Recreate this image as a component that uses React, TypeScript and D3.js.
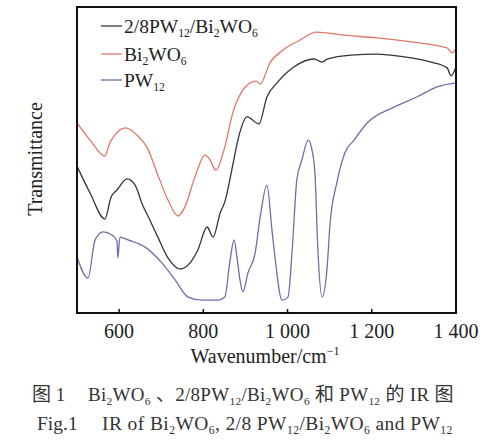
import { useMemo } from 'react'
import * as d3 from 'd3'

type Pt = [number, number]

// wavenumber (cm-1), transmittance (arbitrary %, offset per curve)
const composite: Pt[] = [
  [500, 48.0], [531, 39.2], [566, 30.7], [581, 37.9], [595, 40.2], [619, 43.8], [638, 41.8],
  [654, 35.9], [673, 30.4], [692, 24.8], [716, 18.0], [745, 14.4], [768, 16.3], [787, 20.6],
  [809, 28.1], [823, 24.8], [840, 32.7], [851, 36.3], [870, 48.4], [882, 56.5], [904, 64.1],
  [932, 61.8], [951, 70.6], [975, 75.2], [1015, 80.4], [1063, 83.0], [1082, 82.0], [1094, 83.0],
  [1151, 84.3], [1212, 84.6], [1277, 83.7], [1341, 82.0], [1379, 80.1], [1388, 77.5], [1400, 80.4],
]

const bi2wo6: Pt[] = [
  [500, 62.1], [531, 56.5], [566, 51.3], [578, 55.6], [590, 58.2], [616, 60.5], [642, 58.2],
  [666, 54.2], [692, 45.1], [716, 36.9], [740, 31.7], [756, 34.6], [780, 44.4], [804, 51.6],
  [816, 50.0], [830, 46.7], [849, 53.3], [870, 65.4], [911, 75.2], [925, 75.8], [935, 74.8],
  [958, 81.7], [989, 85.9], [1030, 89.2], [1068, 91.8], [1134, 90.8], [1212, 89.9], [1293, 88.6],
  [1379, 86.6], [1391, 85.0], [1400, 86.6],
]

const pw12: Pt[] = [
  [500, 18.3], [526, 11.4], [543, 23.9], [562, 26.5], [583, 25.5], [595, 23.5], [597, 18.0],
  [602, 24.8], [621, 23.9], [661, 21.6], [702, 16.3], [733, 10.8], [764, 5.2], [797, 4.2],
  [835, 4.2], [851, 5.2], [863, 16.7], [873, 23.9], [880, 18.0], [887, 10.8], [894, 6.9],
  [906, 13.1], [923, 19.6], [935, 31.4], [951, 41.8], [963, 27.1], [970, 18.3], [987, 4.2],
  [1001, 5.2], [1011, 20.6], [1022, 43.5], [1034, 50.0], [1049, 56.5], [1058, 53.3], [1065, 45.8],
  [1072, 20.6], [1082, 5.2], [1094, 15.0], [1101, 29.4], [1117, 42.5], [1136, 52.3], [1158, 56.5],
  [1189, 62.1], [1253, 67.3], [1307, 70.6], [1355, 73.9], [1400, 75.2],
]

const xTicks = [600, 800, 1000, 1200, 1400]
const tickLabels = ['600', '800', '1 000', '1 200', '1 400']

const series = [
  { key: 'composite', data: composite, color: '#353535' },
  { key: 'bi2wo6', data: bi2wo6, color: '#e0786a' },
  { key: 'pw12', data: pw12, color: '#6e6ea8' },
]

// text pieces: [text, subscript?]
type Seg = [string, boolean]
const legendNames: Seg[][] = [
  [['2/8PW', false], ['12', true], ['/Bi', false], ['2', true], ['WO', false], ['6', true]],
  [['Bi', false], ['2', true], ['WO', false], ['6', true]],
  [['PW', false], ['12', true]],
]
const captionCn: Seg[] = [
  ['Bi', false], ['2', true], ['WO', false], ['6', true], [' 、2/8PW', false], ['12', true],
  ['/Bi', false], ['2', true], ['WO', false], ['6', true], [' 和 PW', false], ['12', true],
  [' 的 IR 图', false],
]
const captionEn: Seg[] = [
  ['IR of Bi', false], ['2', true], ['WO', false], ['6', true], [', 2/8 PW', false], ['12', true],
  ['/Bi', false], ['2', true], ['WO', false], ['6', true], [' and PW', false], ['12', true],
]

const serif = '"Liberation Serif", "DejaVu Serif", serif'
const cjk = '"Liberation Serif", "Noto Sans CJK SC", serif'

function rich(segs: Seg[], shift = 4) {
  let low = false
  return segs.map(([t, sub], i) => {
    let dy = 0
    if (sub && !low) dy = shift
    if (!sub && low) dy = -shift
    low = sub
    return (
      <tspan key={i} dy={dy || undefined} fontSize={sub ? '0.6em' : undefined}>
        {t}
      </tspan>
    )
  })
}

export default function App() {
  const W = 488
  const H = 446
  const m = { left: 77, top: 7, right: 456, bottom: 313 }

  const x = useMemo(() => d3.scaleLinear().domain([500, 1400]).range([m.left, m.right]), [])
  const y = useMemo(() => d3.scaleLinear().domain([0, 100]).range([m.bottom, m.top]), [])
  const line = d3
    .line<Pt>()
    .x((d) => x(d[0]))
    .y((d) => y(d[1]))
    .curve(d3.curveMonotoneX)

  const legendY = [26, 54, 80]

  return (
    <svg
      width={W}
      height={H}
      viewBox={`0 0 ${W} ${H}`}
      style={{ position: 'absolute', left: 0, top: 0, background: '#fff' }}
    >
      {series.map((s) => (
        <path key={s.key} d={line(s.data) ?? ''} fill="none" stroke={s.color} strokeWidth={1.3} />
      ))}

      <rect
        x={m.left}
        y={m.top}
        width={m.right - m.left}
        height={m.bottom - m.top}
        fill="none"
        stroke="#111"
        strokeWidth={2}
      />

      {xTicks.map((t, i) => (
        <g key={t}>
          {t < 1400 && (
            <line x1={x(t)} x2={x(t)} y1={m.bottom} y2={m.bottom - 4} stroke="#111" strokeWidth={1.5} />
          )}
          <text x={x(t)} y={338} textAnchor="middle" fontFamily={serif} fontSize={20} fill="#222">
            {tickLabels[i]}
          </text>
        </g>
      ))}

      <text x={265} y={363} textAnchor="middle" fontFamily={serif} fontSize={20} fill="#222">
        Wavenumber/cm<tspan fontSize="0.6em" dy={-8}>−1</tspan>
      </text>

      <text
        transform="translate(42,159) rotate(-90)"
        textAnchor="middle"
        fontFamily={serif}
        fontSize={20}
        fill="#222"
      >
        Transmittance
      </text>

      {series.map((s, i) => (
        <g key={s.key}>
          <line x1={101} x2={122} y1={legendY[i]} y2={legendY[i]} stroke={s.color} strokeWidth={1.3} />
          <text x={124} y={legendY[i] + 7} fontFamily={serif} fontSize={19.5} fill="#222">
            {rich(legendNames[i], 4)}
          </text>
        </g>
      ))}

      <text x={32} y={401} fontFamily={cjk} fontSize={19} fill="#333">
        图 1
      </text>
      <text x={88} y={401} fontFamily={cjk} fontSize={19} fill="#333" letterSpacing={0.3}>
        {rich(captionCn, 4)}
      </text>

      <text x={37} y={430} fontFamily={serif} fontSize={19.5} fill="#333">
        Fig.1
      </text>
      <text x={102} y={430} fontFamily={serif} fontSize={19.5} fill="#333" letterSpacing={0.4}>
        {rich(captionEn, 4)}
      </text>
    </svg>
  )
}
